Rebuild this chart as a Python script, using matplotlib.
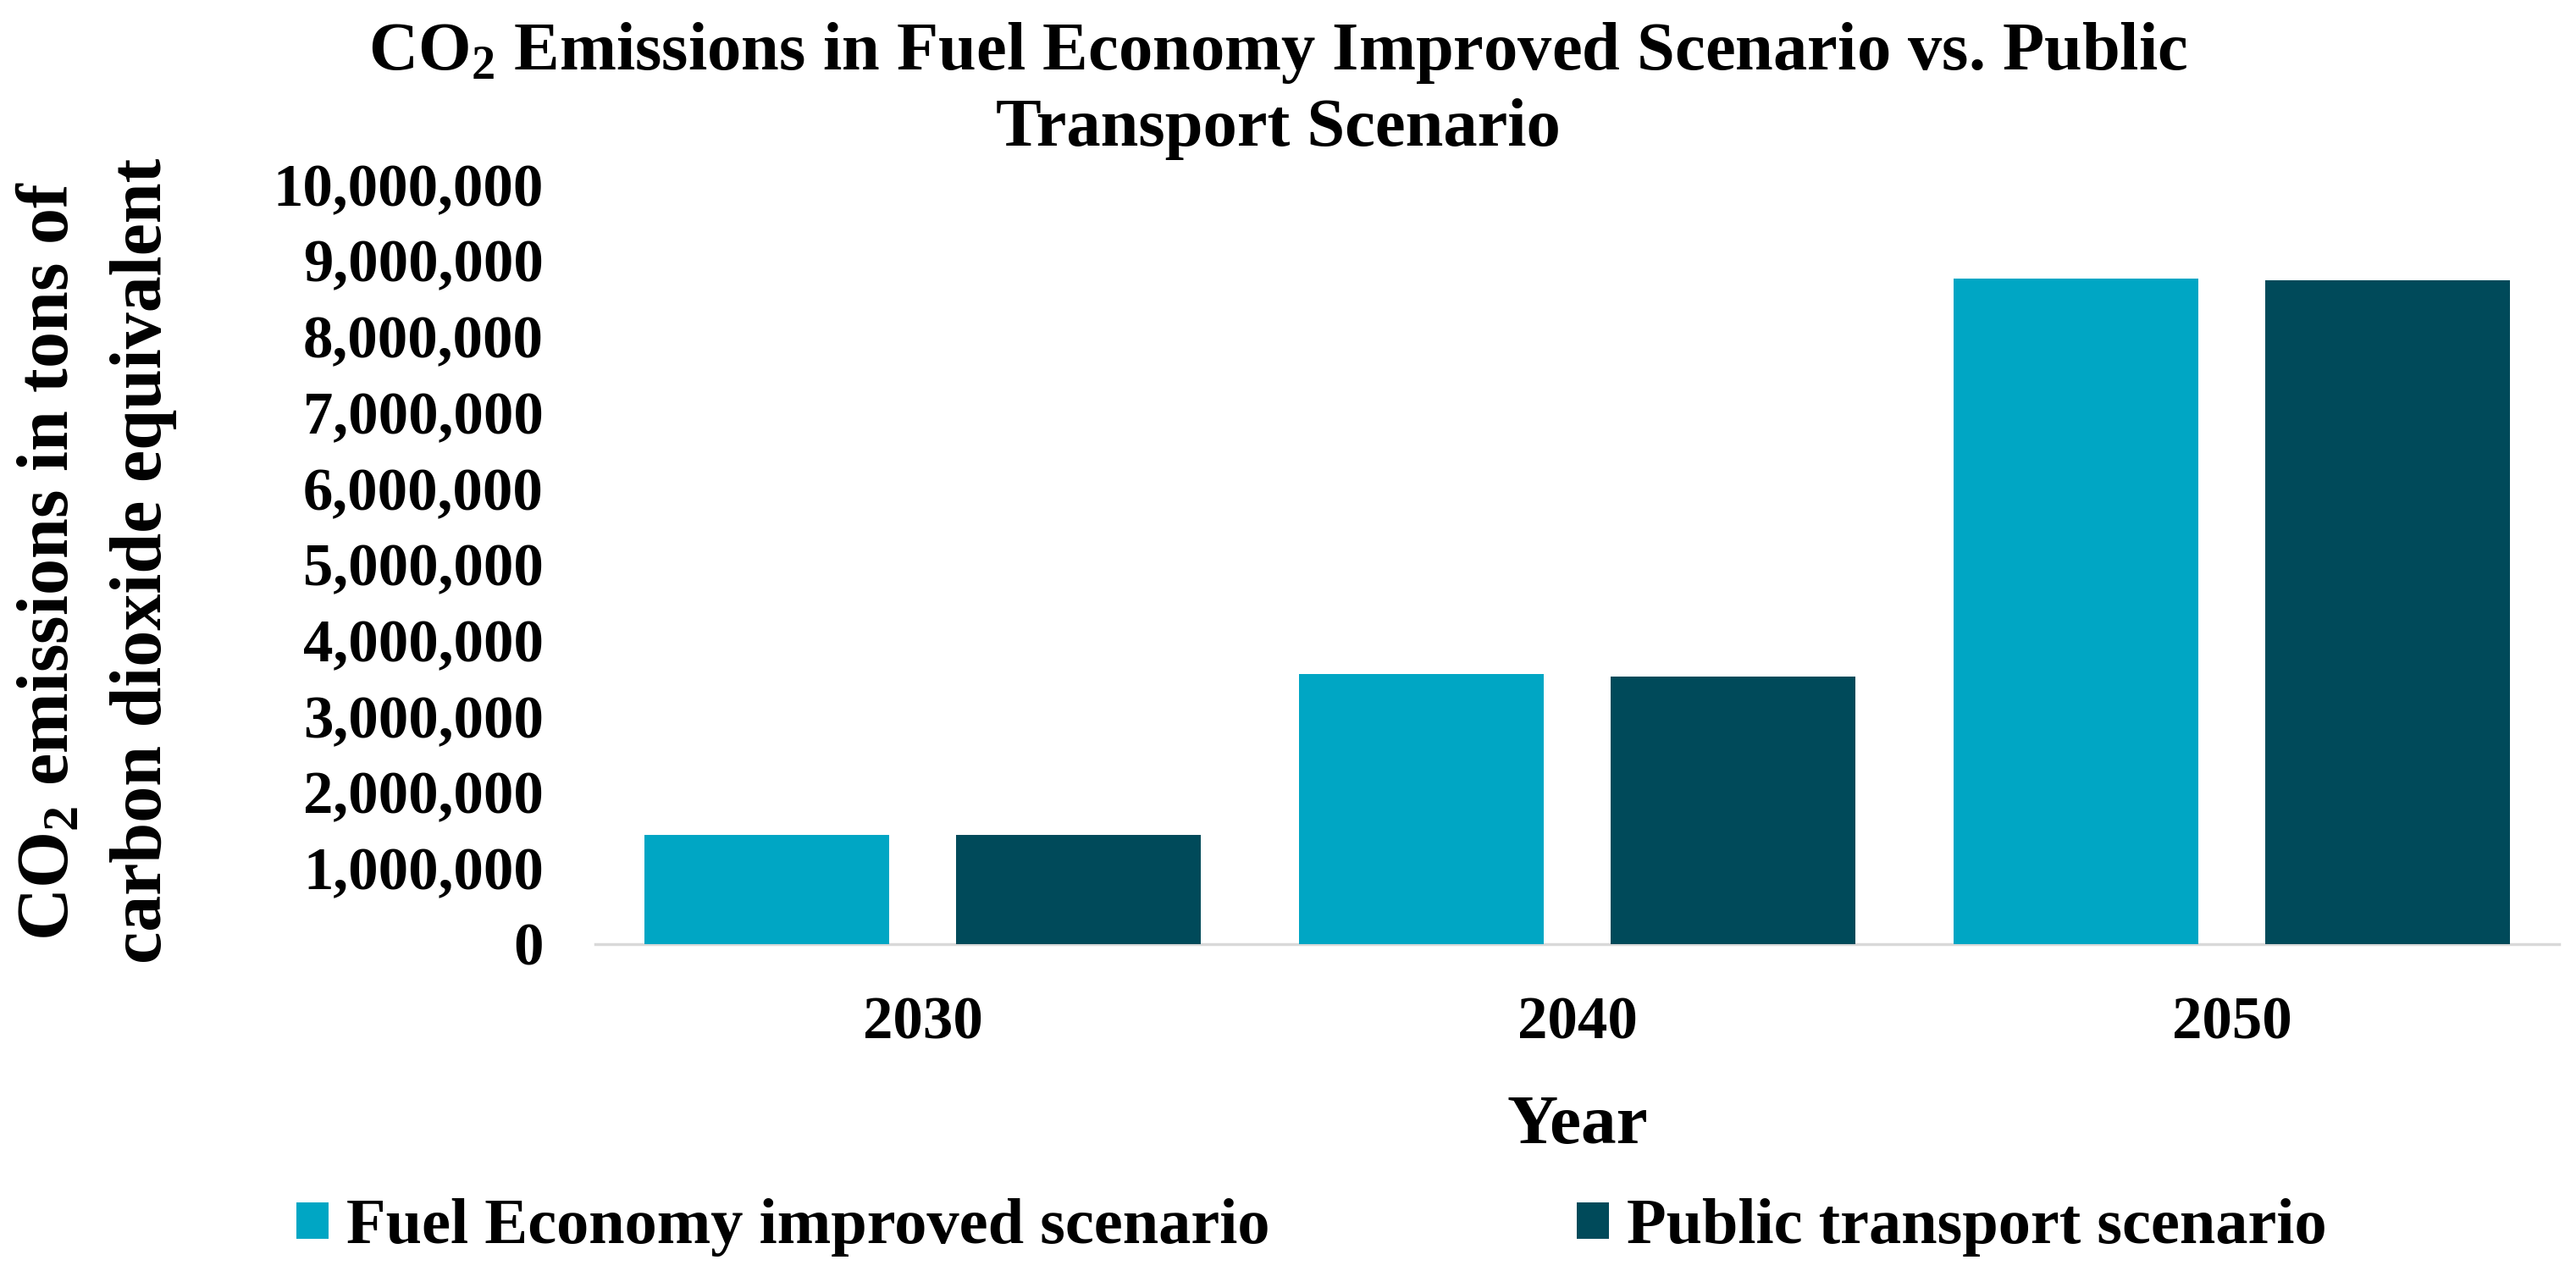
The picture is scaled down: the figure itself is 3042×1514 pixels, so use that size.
import numpy as np
import matplotlib
matplotlib.use("Agg")
import matplotlib.pyplot as plt
from matplotlib.patches import Patch

# ---- data ----
years = ["2030", "2040", "2050"]
fuel_economy = [1440000, 3555000, 8765000]
public_transport = [1435000, 3520000, 8740000]
series_names = ["Fuel Economy improved scenario", "Public transport scenario"]
y_ticks = list(range(0, 10000001, 1000000))
title_lines = ["CO$_2$ Emissions in Fuel Economy Improved Scenario vs. Public",
               "Transport Scenario"]
ylabel_lines = ["CO$_2$ emissions in tons of", "carbon dioxide equivalent"]
xlabel = "Year"

# ---- style ----
plt.rcParams['font.family'] = ['Liberation Serif', 'DejaVu Serif']
plt.rcParams['font.weight'] = 'bold'
plt.rcParams['mathtext.fontset'] = 'custom'
plt.rcParams['mathtext.rm'] = 'Liberation Serif:bold'
plt.rcParams['mathtext.it'] = 'Liberation Serif:bold'
plt.rcParams['mathtext.bf'] = 'Liberation Serif:bold'

c_fe = '#00A6C4'
c_pt = '#004A5A'

W, H = 3042, 1514
fig = plt.figure(figsize=(W / 100, H / 100), dpi=100)
ax_left, ax_right = 703, 3022
ax_top, ax_bottom = 218, 1115
ax = fig.add_axes([ax_left / W, (H - ax_bottom) / H,
                   (ax_right - ax_left) / W, (ax_bottom - ax_top) / H])

x = np.arange(len(years))
width = 0.374
offset = 0.2375
ax.bar(x - offset, fuel_economy, width, color=c_fe, label=series_names[0], zorder=2)
ax.bar(x + offset, public_transport, width, color=c_pt, label=series_names[1], zorder=2)

ax.set_xlim(-0.5, len(years) - 0.5)
ax.set_ylim(0, 10000000)
ax.set_yticks(y_ticks)
ax.set_yticklabels([f"{v:,}" for v in y_ticks])
ax.set_xticks(x)
ax.set_xticklabels(years)

for s in ['top', 'right', 'left']:
    ax.spines[s].set_visible(False)
ax.spines['bottom'].set_color('#D9D9D9')
ax.spines['bottom'].set_linewidth(2.5)
ax.spines['bottom'].set_zorder(1)

ax.tick_params(axis='y', length=0, pad=44, labelsize=51)
ax.tick_params(axis='x', length=0, pad=44, labelsize=51)
for lab in ax.get_xticklabels() + ax.get_yticklabels():
    lab.set_fontweight('bold')

# title (two lines)
fig.text(1509 / W, (H - 82) / H, title_lines[0], ha='center', va='baseline',
         fontsize=58, fontweight='bold')
fig.text(1509 / W, (H - 172) / H, title_lines[1], ha='center', va='baseline',
         fontsize=58, fontweight='bold')

# y label (two lines, rotated)
fig.text(80 / W, (H - 662) / H, ylabel_lines[0], rotation=90, rotation_mode='anchor',
         ha='center', va='baseline', fontsize=62, fontweight='bold')
fig.text(190 / W, (H - 662) / H, ylabel_lines[1], rotation=90, rotation_mode='anchor',
         ha='center', va='baseline', fontsize=62, fontweight='bold')

# x label
fig.text((ax_left + ax_right) / 2 / W, (H - 1350) / H, xlabel, ha='center',
         va='baseline', fontsize=60, fontweight='bold')

# legend
handles = [Patch(facecolor=c_fe), Patch(facecolor=c_pt)]
fig.legend(handles, series_names, loc='center left',
           bbox_to_anchor=(350 / W, (H - 1450) / H), ncol=2, frameon=False,
           handlelength=0.5, handleheight=0.5, handletextpad=0.27,
           columnspacing=4.75, borderpad=0, borderaxespad=0,
           prop={'weight': 'bold', 'size': 55})

fig.savefig("out.png", dpi=100, facecolor='white')
